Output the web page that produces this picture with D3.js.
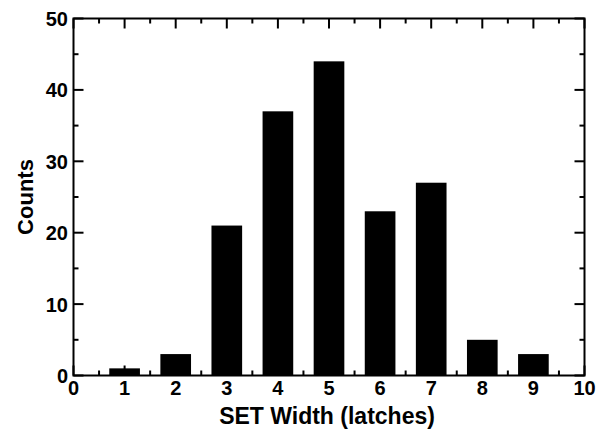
<!DOCTYPE html>
<html>
<head>
<meta charset="utf-8">
<script src="https://cdn.jsdelivr.net/npm/d3@7"></script>
<style>
  html, body { margin: 0; padding: 0; background: #fff; }
  svg text { font-family: "Liberation Sans", Arial, Helvetica, sans-serif; font-weight: bold; fill: #000; }
</style>
</head>
<body>
<svg id="chart" width="607" height="430"></svg>
<script>
const categories = [1, 2, 3, 4, 5, 6, 7, 8, 9];
const counts = [1, 3, 21, 37, 44, 23, 27, 5, 3];
const xTicks = [0, 1, 2, 3, 4, 5, 6, 7, 8, 9, 10];
const yTicks = [0, 10, 20, 30, 40, 50];
const xMinorTicks = [0.5, 1.5, 2.5, 3.5, 4.5, 5.5, 6.5, 7.5, 8.5, 9.5];
const yMinorTicks = [5, 15, 25, 35, 45];
const xTitle = "SET Width (latches)";
const yTitle = "Counts";

const svg = d3.select("#chart");
const L = 73.5, R = 584.5, T = 18.5, B = 375.5;
const x = d3.scaleLinear().domain([0, 10]).range([L, R]);
const y = d3.scaleLinear().domain([0, 50]).range([B, T]);
const barW = x(0.6) - x(0);

// bars
svg.append("g").selectAll("rect").data(categories).join("rect")
  .attr("x", (d) => x(d) - barW / 2)
  .attr("y", (d, i) => y(counts[i]))
  .attr("width", barW)
  .attr("height", (d, i) => y(0) - y(counts[i]))
  .attr("fill", "#000");

const g = svg.append("g").attr("stroke", "#000").attr("stroke-width", 2);
g.append("rect").attr("x", L).attr("y", T).attr("width", R - L).attr("height", B - T).attr("fill", "none");

const maj = 10, minr = 5;
xTicks.forEach(v => {
  g.append("line").attr("x1", x(v)).attr("x2", x(v)).attr("y1", B).attr("y2", B - maj);
  g.append("line").attr("x1", x(v)).attr("x2", x(v)).attr("y1", T).attr("y2", T + maj);
});
xMinorTicks.forEach(v => {
  g.append("line").attr("x1", x(v)).attr("x2", x(v)).attr("y1", B).attr("y2", B - minr);
  g.append("line").attr("x1", x(v)).attr("x2", x(v)).attr("y1", T).attr("y2", T + minr);
});
yTicks.forEach(v => {
  g.append("line").attr("y1", y(v)).attr("y2", y(v)).attr("x1", L).attr("x2", L + maj);
  g.append("line").attr("y1", y(v)).attr("y2", y(v)).attr("x1", R).attr("x2", R - maj);
});
yMinorTicks.forEach(v => {
  g.append("line").attr("y1", y(v)).attr("y2", y(v)).attr("x1", L).attr("x2", L + minr);
  g.append("line").attr("y1", y(v)).attr("y2", y(v)).attr("x1", R).attr("x2", R - minr);
});

// tick labels
svg.append("g").selectAll("text").data(xTicks).join("text")
  .attr("x", d => x(d)).attr("y", 395)
  .attr("text-anchor", "middle").attr("font-size", 20)
  .text(d => d);
svg.append("g").selectAll("text").data(yTicks).join("text")
  .attr("x", 68).attr("y", d => y(d) + 7.5)
  .attr("text-anchor", "end").attr("font-size", 20)
  .text(d => d);

// titles
svg.append("text").attr("x", 327).attr("y", 424)
  .attr("text-anchor", "middle").attr("font-size", 23).text(xTitle);
svg.append("text").attr("transform", `translate(33,${(T + B) / 2}) rotate(-90)`)
  .attr("text-anchor", "middle").attr("font-size", 22).text(yTitle);
</script>
</body>
</html>
